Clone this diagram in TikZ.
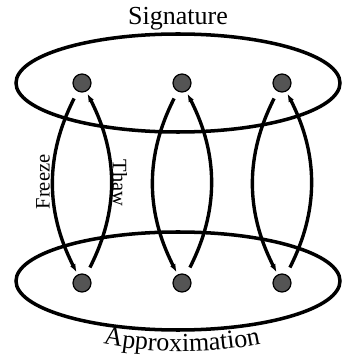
\documentclass[tikz,border=0pt]{standalone}
\usepackage{fontspec}
\setmainfont{Liberation Serif}
\usepackage{tikz}
\usetikzlibrary{shapes.geometric, arrows.meta, positioning, decorations.text}

\begin{document}
\begin{tikzpicture}[
	ring/.style={ellipse, draw=black, line width=2.5pt, minimum width=8.1cm,
	             minimum height=2.45cm, inner sep=0pt},
	dot/.style={circle, draw=black, fill=black!67, line width=0.9pt,
	            minimum size=0.45cm, inner sep=0pt},
	setlabel/.style={font=\fontsize{18.5}{20}\selectfont, inner sep=0pt},
	oplabel/.style={font=\fontsize{14.6}{16}\selectfont, inner sep=0pt},
	arr/.style={-{Latex[length=6pt,width=4.2pt]}, draw=black, line width=2.4pt,
	            shorten <=5.5pt, shorten >=1.5pt}
	]
\useasboundingbox (0,0) rectangle (8.55,9);

% Zwei Mengen
\node[ring] (sigset) at (4.45,6.925) {};
\node[ring] (appset) at (4.45,1.975) {};
\node[setlabel, above=1pt of sigset] (siglabel) {Signature};

% Elemente oben
\node[dot] (t1) at (2.05,6.925) {};
\node[dot] (t2) at (4.55,6.925) {};
\node[dot] (t3) at (7.05,6.925) {};

% Elemente unten
\node[dot] (b1) at (2.05,1.925) {};
\node[dot] (b2) at (4.55,1.925) {};
\node[dot] (b3) at (7.05,1.925) {};

% Freeze / Thaw
\draw[arr] (t1) to[bend right=27] (b1);
\draw[arr] (b1) to[bend right=27] (t1);
\draw[arr] (t2) to[bend right=27] (b2);
\draw[arr] (b2) to[bend right=27] (t2);
\draw[arr] (t3) to[bend right=27] (b3);
\draw[arr] (b3) to[bend right=27] (t3);

\node[oplabel, rotate=90] (freeze) at (1.075,4.45) {Freeze};
\node[oplabel, rotate=-90] (thaw) at (3.0,4.425) {Thaw};

% Beschriftung unten, gebogen
\path[decorate, decoration={text along path, text align=center,
	text={|\fontsize{18.5}{20}\selectfont|Approximation}}]
	(2.0,0.55) .. controls (3.5,0.1) and (5.6,0.1) .. (7.1,0.55);

\end{tikzpicture}
\end{document}
